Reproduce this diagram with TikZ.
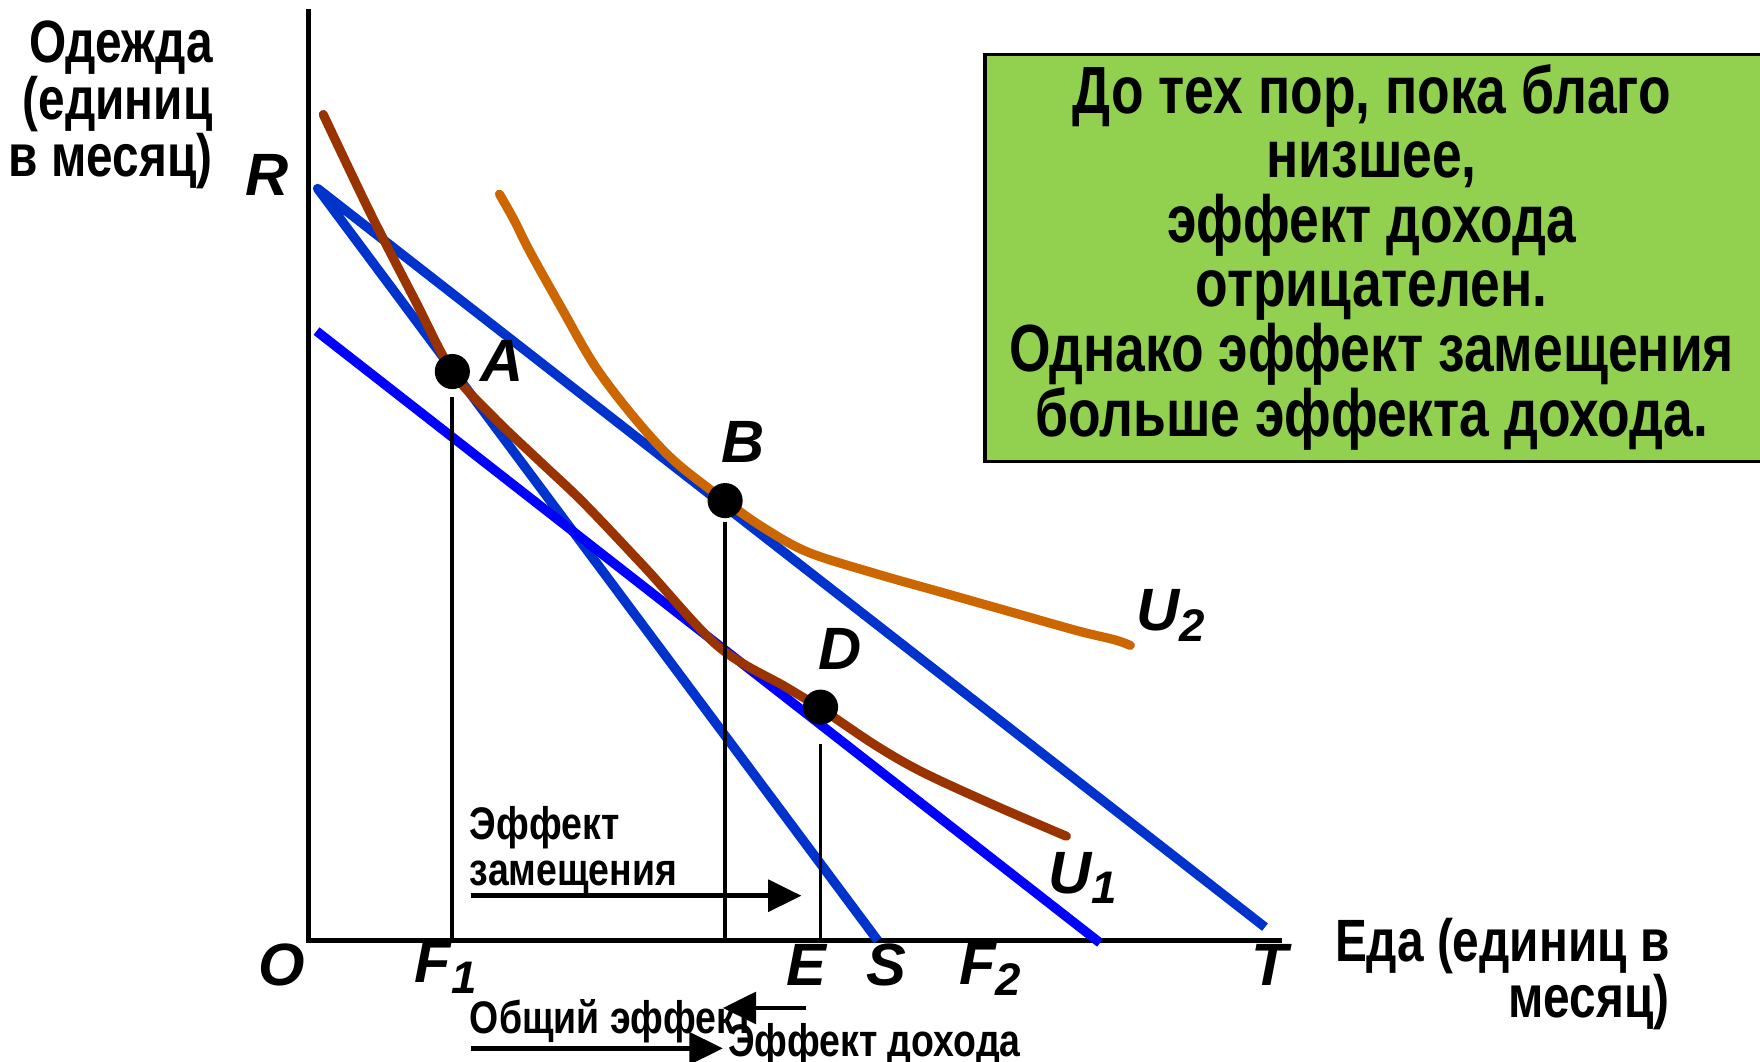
\documentclass[tikz,border=0pt]{standalone}
\usepackage{fontspec}
\setmainfont{Liberation Sans}
\newfontfamily\nf{Liberation Sans}[FakeStretch=0.80]
\newfontfamily\nfb{Liberation Sans}[FakeStretch=0.80]
\newfontfamily\nfc{Liberation Sans}[FakeStretch=0.82]
\usetikzlibrary{arrows.meta}
\definecolor{budblue}{HTML}{0033CC}
\definecolor{pureblue}{HTML}{0000FF}
\definecolor{uonebrown}{HTML}{993300}
\definecolor{utwoorange}{HTML}{CC6600}
\definecolor{boxgreen}{HTML}{92D050}
\begin{document}
\begin{tikzpicture}[x=0.011224cm,y=-0.011224cm,
  axisline/.style={line width=1.3pt,black},
  budget/.style={line width=2.7pt,budblue,line join=round},
  budgetb/.style={line width=2.7pt,pureblue},
  curve/.style={line width=2.6pt,line cap=round,line join=round},
  dropline/.style={line width=1.1pt,black},
  dot/.style={circle,fill=black,minimum size=10pt,inner sep=0pt},
  ptlabel/.style={font=\bfseries\itshape\fontsize{17}{17}\selectfont,inner sep=0pt},
  txt/.style={inner sep=0pt},
  small/.style={font=\nfc\bfseries\fontsize{13}{13}\selectfont},
  effarrow/.style={line width=1.3pt,-{Triangle[length=9.5pt,width=9pt]}}]
\useasboundingbox (0,0) rectangle (1568,946);
% axes
\coordinate (ytop) at (275,8);
\coordinate (O) at (275,838);
\coordinate (xend) at (1142,838);
\draw[axisline] (ytop) -- (O) -- (xend);
% budget lines
\coordinate (R) at (283,168);
\coordinate (S) at (782,838);
\coordinate (T) at (1127,826);
\coordinate (Pa) at (282,295);
\coordinate (Pb) at (980,840);
\draw[budget] (S) -- (R) -- (T);
\draw[budgetb] (Pa) -- (Pb);
% indifference curves
\draw[curve,uonebrown] plot[smooth,tension=0.55] coordinates {(288,102) (330,190) (370,268) (403,331) (440,372) (482,412) (520,448) (575,506) (640,576) (700,612) (731,631) (780,664) (822,688) (885,717) (950,745)};
\draw[curve,utwoorange] plot[smooth,tension=0.55] coordinates {(445,173) (458,196) (472,224) (500,274) (530,326) (565,372) (600,410) (646,446) (680,470) (720,492) (780,511) (840,528) (900,545) (960,562) (993,570) (1007,575)};
% points
\node[dot] (A) at (403,331) {};
\node[dot] (B) at (646,446) {};
\node[dot] (D) at (731,630) {};
\coordinate (F1) at (403,838);
\coordinate (Bx) at (646,838);
\coordinate (E) at (731,838);
\draw[dropline] ([yshift=-2pt]A.south) -- (F1);
\draw[dropline] ([yshift=-1pt]B.south) -- (Bx);
\draw[dropline] ([yshift=-5.4pt]D.south) -- (E);
% point labels
\node[ptlabel] (lA) at (447,322) {A};
\node[ptlabel] (lB) at (662,394) {B};
\node[ptlabel] (lD) at (748,578) {D};
\node[ptlabel] (lR) at (238,156) {R};
\node[ptlabel] (lO) at (251,860) {O};
\node[ptlabel] (lF1) at (398,862) {F\textsubscript{\fontsize{13}{13}\selectfont 1}};
\node[ptlabel] (lE) at (718,860) {E};
\node[ptlabel] (lS) at (790,860) {S};
\node[ptlabel] (lF2) at (883,864) {F\textsubscript{\fontsize{13}{13}\selectfont 2}};
\node[ptlabel] (lT) at (1131,860) {T};
\node[ptlabel] (lU2) at (1044,548) {U\textsubscript{\fontsize{13}{13}\selectfont 2}};
\node[ptlabel] (lU1) at (965,782) {U\textsubscript{\fontsize{13}{13}\selectfont 1}};
% axis titles
\node[txt,font=\nf\bfseries\fontsize{17}{16.2}\selectfont,align=right,anchor=north east] (ytitle) at (190,18) {Одежда\\(единиц\\в месяц)};
\node[txt,font=\nfb\bfseries\fontsize{17}{16}\selectfont,align=right,anchor=north east] (xtitle) at (1488,817) {Еда (единиц в\\месяц)};
% green box
\node[draw=black,line width=1pt,fill=boxgreen,minimum width=7.80cm,minimum height=4.07cm,anchor=north west,inner sep=0pt] (box) at (876,47) {};
\node[txt,font=\nfb\bfseries\fontsize{19}{18.4}\selectfont,align=center] (boxtext) at (1222,229) {До тех пор, пока благо\\низшее,\\эффект дохода\\отрицателен.\\Однако эффект замещения\\больше эффекта дохода.};
% effect labels and arrows
\node[txt,small,align=left,anchor=north west] (subst) at (418,718) {Эффект\\замещения};
\coordinate (sa1) at (420,798);
\coordinate (sa2) at (714,798);
\draw[effarrow] (sa1) -- (sa2);
\node[txt,small,anchor=west] (total) at (418,910) {Общий эффект};
\coordinate (ta1) at (420,934);
\coordinate (ta2) at (644,934);
\draw[effarrow] (ta1) -- (ta2);
\coordinate (ia1) at (718,898);
\coordinate (ia2) at (644,898);
\draw[effarrow] (ia1) -- (ia2);
\node[txt,small,anchor=west] (income) at (648,931) {Эффект дохода};
\end{tikzpicture}
\end{document}
